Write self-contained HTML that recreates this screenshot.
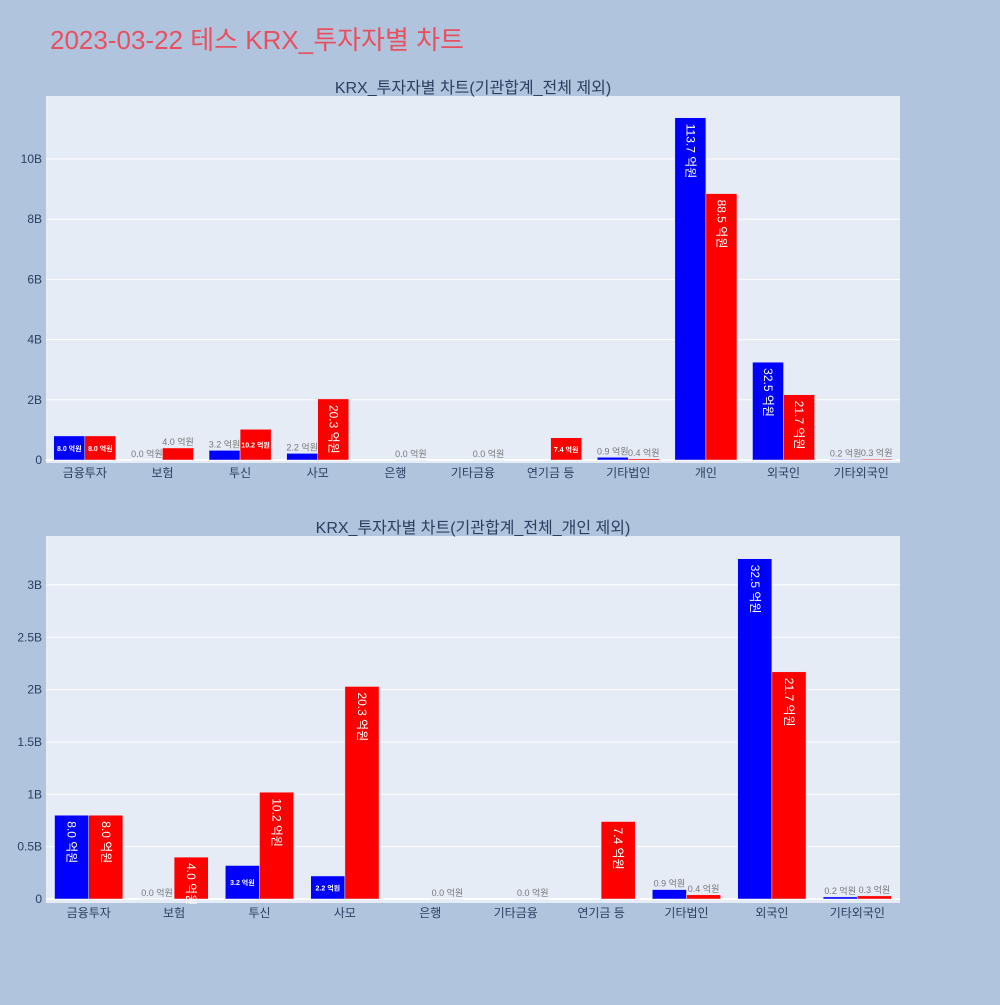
<!DOCTYPE html>
<html><head><meta charset="utf-8">
<style>
body{margin:0;background:#b0c4de;font-family:"Liberation Sans","Noto Sans CJK KR",sans-serif;}
svg text{font-family:"Liberation Sans","Noto Sans CJK KR",sans-serif;}
</style></head>
<body>
<svg id="root" width="1000" height="1000" xmlns="http://www.w3.org/2000/svg">
<rect width="1000" height="1000" fill="#b0c4de"/>
<text x="50" y="49" font-size="26" fill="#e8505f">2023-03-22 테스 KRX_투자자별 차트</text>
</svg>
<script>
const categories1=["금융투자","보험","투신","사모","은행","기타금융","연기금 등","기타법인","개인","외국인","기타외국인"];
const blueVals1=[8.0,0.0,3.2,2.2,null,null,null,0.9,113.7,32.5,0.2];
const redVals1=[8.0,4.0,10.2,20.3,0.0,0.0,7.4,0.4,88.5,21.7,0.3];
const ticks1=[0,2,4,6,8,10];
const tickLabels1=["0","2B","4B","6B","8B","10B"];
const categories2=["금융투자","보험","투신","사모","은행","기타금융","연기금 등","기타법인","외국인","기타외국인"];
const blueVals2=[8.0,0.0,3.2,2.2,null,null,null,0.9,32.5,0.2];
const redVals2=[8.0,4.0,10.2,20.3,0.0,0.0,7.4,0.4,21.7,0.3];
const ticks2=[0,0.5,1,1.5,2,2.5,3];
const tickLabels2=["0","0.5B","1B","1.5B","2B","2.5B","3B"];

const NS="http://www.w3.org/2000/svg";
const root=document.getElementById('root');
function mk(tag,attrs,parent){const e=document.createElementNS(NS,tag);for(const k in attrs)e.setAttribute(k,attrs[k]);(parent||root).appendChild(e);return e;}

function drawChart(cfg){
  const {x0,x1,yTop,yBot,y0px,pxPerB,cats,blue,red,ticks,tickLabels,title,prefix}=cfg;
  const g=mk('g',{});
  
  
  const bg=mk('rect',{x:x0,y:yTop,width:x1-x0,height:yBot-yTop,fill:'#e5ecf6'},g);
  
  
  const yv=v=>y0px-(v/10)*pxPerB; // v in 억, 10억=1B
  ticks.forEach((t,i)=>{
    const y=y0px-t*pxPerB;
    if(t>0){const l=mk('line',{x1:x0,x2:x1,y1:y,y2:y,stroke:'#fff','stroke-width':1},g);
      
      }
    const tx=mk('text',{x:x0-4,y:y+4,'font-size':12,fill:'#2a3f5f','text-anchor':'end'},g);
    tx.textContent=tickLabels[i];
    
    
  });
  const zl=mk('line',{x1:x0,x2:x1,y1:y0px,y2:y0px,stroke:'#fff','stroke-width':2},g);
  
  
  const band=(x1-x0)/cats.length;
  const bw=band*0.4;
  cats.forEach((c,i)=>{
    const cx=x0+band*(i+0.5);
    const t=mk('text',{x:cx,y:yBot+14,'font-size':12,fill:'#2a3f5f','text-anchor':'middle'},g);
    t.textContent=c;
    
    
    [[blue[i],'#0000ff',cx-bw,'blue'],[red[i],'#ff0000',cx,'red']].forEach(([v,col,bx,nm])=>{
      if(v===null)return;
      const yt=yv(v),h=y0px-yt;
      const r=mk('rect',{x:bx,y:yt,width:bw,height:Math.max(h,0.5),fill:col,stroke:'#e5ecf6','stroke-width':0.5},g);
      
      
      const lab=v.toFixed(1)+' 억원';
      let tx;
      if(h>40){
        tx=mk('text',{x:0,y:0,'font-size':12,fill:'#fff','text-anchor':'start',transform:`translate(${bx+bw/2-4},${yt+6}) rotate(90)`},g);
      }else if(h>15){
        tx=mk('text',{x:bx+bw/2,y:yt+h/2+3,'font-size':7,'font-weight':'bold',fill:'#fff','text-anchor':'middle'},g);
      }else{
        tx=mk('text',{x:bx+bw/2,y:yt-3,'font-size':9,fill:'#777','text-anchor':'middle'},g);
      }
      tx.textContent=lab;
      
      
    });
  });
  const tt=mk('text',{x:(x0+x1)/2,y:yTop-3,'font-size':16,fill:'#2a3f5f','text-anchor':'middle'},g);
  tt.textContent=title;
  
  
}
drawChart({x0:46,x1:900,yTop:96,yBot:463,y0px:460,pxPerB:30.1,cats:categories1,blue:blueVals1,red:redVals1,ticks:ticks1,tickLabels:tickLabels1,title:"KRX_투자자별 차트(기관합계_전체 제외)",prefix:'top'});
drawChart({x0:46,x1:900,yTop:536,yBot:903,y0px:899,pxPerB:104.7,cats:categories2,blue:blueVals2,red:redVals2,ticks:ticks2,tickLabels:tickLabels2,title:"KRX_투자자별 차트(기관합계_전체_개인 제외)",prefix:'bottom'});
</script>
</body></html>
